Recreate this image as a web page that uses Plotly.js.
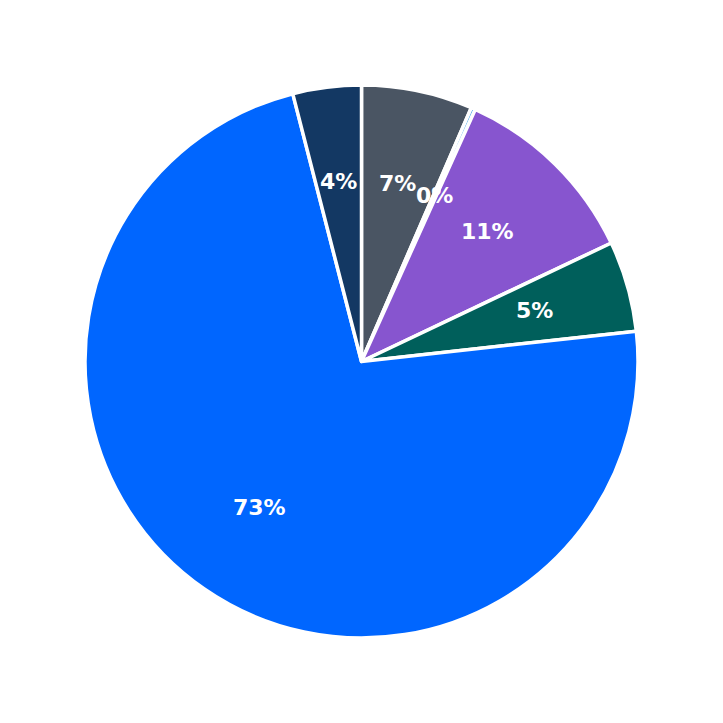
<!DOCTYPE html>
<html>
<head>
<meta charset="utf-8">
<script src="https://cdn.plot.ly/plotly-3.0.1.min.js"></script>
<style>
  html, body { margin: 0; padding: 0; background: #fff; }
  #chart { width: 723px; height: 723px; }
</style>
</head>
<body>
<div id="chart"></div>
<script>
// slice shares, clockwise from 12 o'clock
var labels = ['A', 'B', 'C', 'D', 'E', 'F'];
var values = [6.5, 0.25, 11.2, 5.3, 72.75, 4.0];
var colors = ['#4a5563', '#4aa8e8', '#8755cf', '#005f5b', '#0066ff', '#133863'];

var trace = {
    type: 'pie',
    labels: labels,
    values: values,
    sort: false,
    direction: 'clockwise',
    rotation: 0,
    textinfo: 'none',
    textposition: 'none',
    marker: {
        colors: colors,
        line: { color: '#ffffff', width: 3.5 }
    },
    hoverinfo: 'label+percent'
};

// percent labels sit at a fixed share of the radius, on each slice's mid angle
var total = values.reduce(function (a, b) { return a + b; }, 0);
var labelRadius = 0.65 * 0.5;
var annotations = [];
var cum = 0;
values.forEach(function (v) {
    var mid = (cum + v / 2) / total * 2 * Math.PI;
    cum += v;
    annotations.push({
        xref: 'paper', yref: 'paper',
        x: 0.5 + labelRadius * Math.sin(mid),
        y: 0.5 + labelRadius * Math.cos(mid),
        yshift: 2,
        text: Math.round(v / total * 100) + '%',
        showarrow: false,
        xanchor: 'center', yanchor: 'middle',
        font: { family: 'DejaVu Sans', size: 22, color: '#ffffff', weight: 'bold' }
    });
});

var layout = {
    width: 723,
    height: 723,
    showlegend: false,
    margin: { l: 85, r: 85, t: 85, b: 85, pad: 0 },
    paper_bgcolor: '#ffffff',
    plot_bgcolor: '#ffffff',
    annotations: annotations
};

Plotly.newPlot('chart', [trace], layout, { displayModeBar: false, staticPlot: true });
</script>
</body>
</html>
